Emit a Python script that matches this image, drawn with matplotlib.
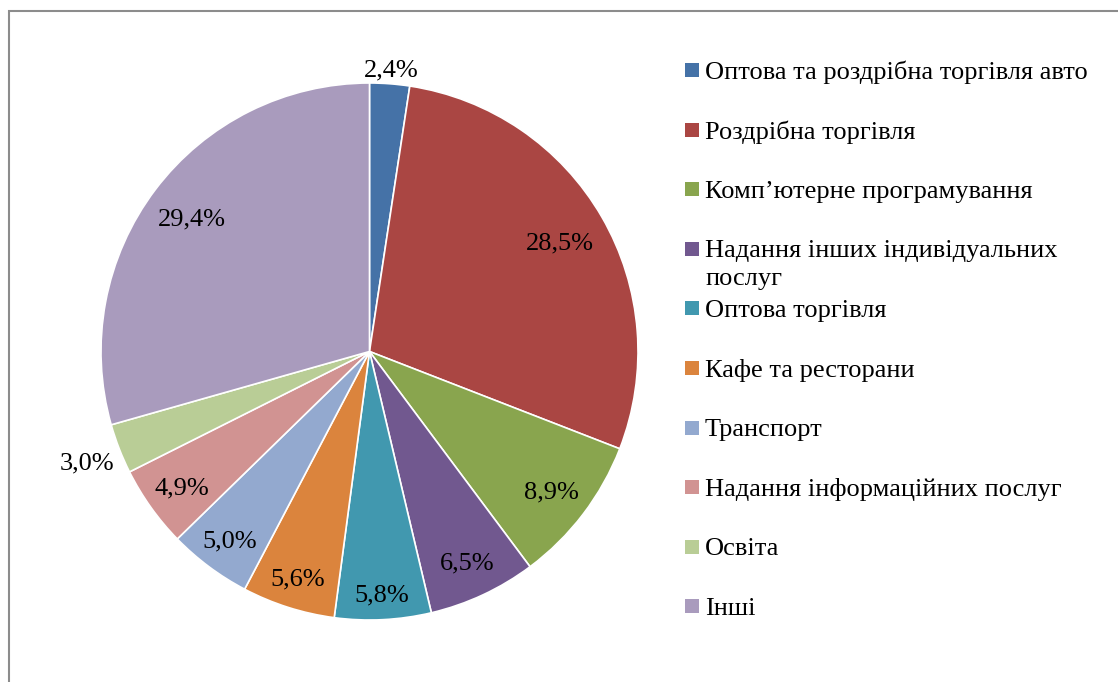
import matplotlib
matplotlib.use("Agg")
import matplotlib.pyplot as plt
from matplotlib.patches import Rectangle
import numpy as np

plt.rcParams['font.family'] = ['Liberation Serif', 'DejaVu Serif']

categories = [
    "Оптова та роздрібна торгівля авто",
    "Роздрібна торгівля",
    "Комп’ютерне програмування",
    "Надання інших індивідуальних\nпослуг",
    "Оптова торгівля",
    "Кафе та ресторани",
    "Транспорт",
    "Надання інформаційних послуг",
    "Освіта",
    "Інші",
]
values = [2.4, 28.5, 8.9, 6.5, 5.8, 5.6, 5.0, 4.9, 3.0, 29.4]
colors = ["#4572A7", "#AA4643", "#89A54E", "#71588F", "#4198AF",
          "#DB843D", "#93A9CF", "#D19392", "#B9CD96", "#A99BBD"]
label_radius = [1.06, 0.82, 0.85, 0.86, 0.90, 0.88, 0.87, 0.86, 1.13, 0.83]

W, H = 1118, 682
fig = plt.figure(figsize=(W / 100, H / 100), dpi=100)

# outer border
fig.patches.append(Rectangle((9 / W, -0.1), 1.2, (H - 11) / H + 0.1,
                             transform=fig.transFigure, fill=False,
                             edgecolor="#8c8c8c", linewidth=1.5))

cx, cy, r = 369.5, 351.5, 268.5
ax = fig.add_axes([(cx - r) / W, (H - cy - r) / H, 2 * r / W, 2 * r / H])
wedges, _ = ax.pie(values, colors=colors, startangle=90, counterclock=False,
                   radius=1, wedgeprops=dict(edgecolor="white", linewidth=1.2))
ax.set_xlim(-1, 1)
ax.set_ylim(-1, 1)
ax.set_aspect("equal")
ax.axis("off")

for w, v, lr in zip(wedges, values, label_radius):
    ang = np.deg2rad((w.theta1 + w.theta2) / 2)
    ax.text(lr * np.cos(ang), lr * np.sin(ang), f"{v:.1f}%".replace(".", ","),
            ha="center", va="center_baseline", fontsize=19, color="black")

# legend
y0, dy, line_h = 70, 59.6, 28
for i, (lab, col) in enumerate(zip(categories, colors)):
    y = y0 + i * dy
    fig.patches.append(Rectangle((685 / W, 1 - (y + 7) / H), 14 / W, 14 / H,
                                 transform=fig.transFigure, facecolor=col,
                                 edgecolor="none"))
    for k, line in enumerate(lab.split("\n")):
        fig.text(705 / W, 1 - (y + k * line_h) / H, line, ha="left",
                 va="center_baseline", fontsize=19, color="black")

fig.savefig("out.png", dpi=100)
